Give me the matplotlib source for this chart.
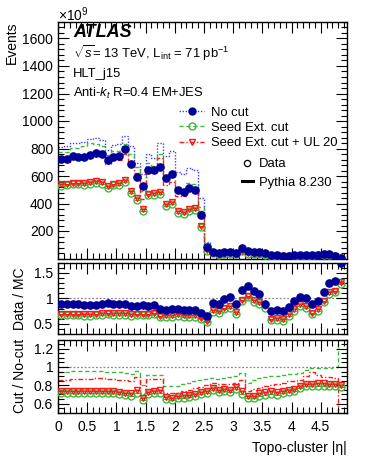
import numpy as np
import matplotlib
matplotlib.use("Agg")
import matplotlib.pyplot as plt
from matplotlib.ticker import MultipleLocator, FormatStrFormatter, FixedLocator
from matplotlib.lines import Line2D

plt.rcParams["font.family"] = ["Liberation Sans", "DejaVu Sans"]
plt.rcParams["mathtext.fontset"] = "custom"
plt.rcParams["mathtext.rm"] = "Liberation Sans"
plt.rcParams["mathtext.it"] = "Liberation Sans:italic"
plt.rcParams["mathtext.bf"] = "Liberation Sans:bold"

# ---------------- data ----------------
eta_edges = np.round(np.arange(50) * 0.1, 1)          # 49 bins, 0 - 4.9

# main panel, events in units of 1e9
nocut_data = [721, 725, 747, 738, 735, 750, 764, 757, 718, 740, 743, 793, 689, 592, 529, 641, 641, 665, 583, 612,
              498, 481, 510, 500, 314, 81, 50, 38, 47, 50, 42, 78, 54, 47, 45, 42, 25, 23, 21, 21,
              23, 23, 25, 23, 28, 30, 36, 21, 5]
seed_data = [527, 532, 539, 539, 536, 541, 551, 544, 512, 532, 536, 556, 478, 425, 347, 459, 464, 469, 381, 396,
             333, 326, 348, 352, 231, 58, 38, 27, 34, 36, 32, 55, 36, 31, 31, 29, 18, 16, 15, 15,
             17, 18, 20, 18, 22, 24, 28, 17, 4]
ul_data = [540, 545, 552, 552, 548, 553, 563, 556, 524, 545, 548, 568, 490, 437, 358, 471, 476, 481, 393, 408,
           344, 337, 360, 364, 240, 60, 39, 28, 35, 37, 33, 57, 37, 32, 32, 30, 19, 17, 16, 16,
           18, 19, 21, 19, 23, 25, 29, 17, 4]
nocut_mc = [814, 818, 843, 839, 849, 872, 875, 860, 792, 829, 832, 888, 820, 694, 615, 758, 734, 839, 747, 779,
            628, 617, 660, 641, 440, 123, 55, 43, 47, 48, 48, 67, 44, 41, 41, 48, 33, 30, 28, 25,
            24, 22, 25, 26, 29, 27, 28, 16, 3]
seed_mc = [773, 777, 805, 805, 815, 837, 836, 821, 752, 783, 782, 830, 759, 666, 492, 694, 672, 763, 594, 615,
           499, 500, 548, 545, 378, 107, 48, 37, 41, 43, 43, 63, 37, 35, 36, 43, 30, 27, 25, 23,
           22, 20, 24, 26, 29, 27, 28, 16, 4]
ul_mc = [700, 703, 729, 730, 739, 759, 766, 753, 689, 717, 716, 759, 697, 621, 431, 656, 639, 730, 538, 557,
         452, 453, 495, 494, 345, 98, 45, 35, 38, 39, 40, 58, 32, 31, 32, 38, 26, 24, 23, 21,
         20, 19, 23, 25, 26, 24, 25, 14, 1]

# Data / MC panel
ratio_nocut = [0.886, 0.886, 0.886, 0.88, 0.866, 0.86, 0.873, 0.88, 0.906, 0.893, 0.893, 0.893, 0.84, 0.853,
               0.86, 0.846, 0.873, 0.793, 0.78, 0.786, 0.793, 0.78, 0.773, 0.78, 0.713,
               0.66, 0.913, 0.893, 0.993, 1.033, 0.88, 1.16, 1.233, 1.146, 1.086, 0.88, 0.753, 0.766, 0.753,
               0.833, 0.953, 1.033, 1.0, 0.88, 0.953, 1.126, 1.3, 1.346, 1.686]
ratio_seed = [0.665, 0.665, 0.67, 0.665, 0.66, 0.66, 0.67, 0.675, 0.69, 0.675, 0.675, 0.68, 0.66, 0.665,
              0.67, 0.665, 0.685, 0.63, 0.64, 0.64, 0.655, 0.64, 0.635, 0.635, 0.59,
              0.534, 0.74, 0.72, 0.79, 0.82, 0.70, 0.94, 1.02, 0.93, 0.89, 0.82, 0.57, 0.58, 0.555,
              0.655, 0.755, 0.855, 0.81, 0.69, 0.755, 0.92, 1.09, 1.115, 1.29]
ratio_ul = [0.695, 0.695, 0.70, 0.695, 0.69, 0.69, 0.70, 0.705, 0.72, 0.705, 0.705, 0.71, 0.69, 0.695,
            0.70, 0.695, 0.715, 0.66, 0.67, 0.67, 0.685, 0.67, 0.665, 0.665, 0.62,
            0.564, 0.77, 0.75, 0.82, 0.85, 0.73, 0.97, 1.05, 0.96, 0.92, 0.85, 0.60, 0.61, 0.585,
            0.685, 0.785, 0.885, 0.84, 0.72, 0.785, 0.95, 1.12, 1.145, 1.32]
ratio_nocut_err_last = 0.12
ratio_ul_err_last = 0.07

# Cut / No-cut panel
frac_seed_data = [0.71, 0.71, 0.71, 0.71, 0.71, 0.71, 0.715, 0.715, 0.71, 0.71, 0.70, 0.69, 0.685, 0.72,
                  0.64, 0.705, 0.71, 0.72, 0.645, 0.64, 0.66, 0.665, 0.67, 0.68, 0.70,
                  0.714, 0.75, 0.722, 0.733, 0.722, 0.758, 0.707, 0.66, 0.66, 0.686, 0.697, 0.707, 0.697,
                  0.714, 0.722, 0.733, 0.769, 0.788, 0.788, 0.795, 0.795, 0.788, 0.788, 0.78]
frac_ul_data = [0.735, 0.735, 0.735, 0.735, 0.735, 0.735, 0.74, 0.74, 0.735, 0.735, 0.725, 0.715, 0.71, 0.745,
                0.665, 0.73, 0.735, 0.745, 0.67, 0.665, 0.685, 0.69, 0.695, 0.705, 0.725,
                0.739, 0.775, 0.747, 0.758, 0.747, 0.783, 0.732, 0.685, 0.685, 0.711, 0.722, 0.732, 0.722,
                0.739, 0.747, 0.758, 0.794, 0.813, 0.813, 0.82, 0.82, 0.813, 0.813, 0.805]
frac_seed_mc = [0.95, 0.95, 0.955, 0.96, 0.96, 0.96, 0.955, 0.955, 0.95, 0.945, 0.94, 0.935, 0.925, 0.96,
                0.80, 0.915, 0.915, 0.91, 0.795, 0.79, 0.795, 0.81, 0.83, 0.85, 0.86,
                0.87, 0.875, 0.87, 0.88, 0.89, 0.905, 0.935, 0.83, 0.86, 0.88, 0.89, 0.9, 0.905, 0.91,
                0.92, 0.925, 0.93, 0.965, 0.985, 0.985, 0.985, 0.99, 0.995, 1.35]
frac_ul_mc = [0.86, 0.86, 0.865, 0.87, 0.87, 0.87, 0.875, 0.875, 0.87, 0.865, 0.86, 0.855, 0.85, 0.895,
              0.70, 0.865, 0.87, 0.87, 0.72, 0.715, 0.72, 0.735, 0.75, 0.77, 0.785,
              0.80, 0.82, 0.81, 0.81, 0.815, 0.83, 0.86, 0.735, 0.76, 0.77, 0.79, 0.80, 0.815, 0.83,
              0.845, 0.85, 0.86, 0.9, 0.945, 0.91, 0.895, 0.89, 0.88, 0.4]

# ---------------- style ----------------
C_BLUE_M = "#000099"
C_BLUE_L = "#3d3dff"
C_GREEN = "#3cb83c"
C_RED = "#ff1a1a"
LS_BLUE = (0, (1, 1.2))
LS_GREEN = (0, (3, 2))
LS_RED = (0, (3.5, 1.5, 1, 1.5))

centers = 0.5 * (eta_edges[1:] + eta_edges[:-1])
halfw = 0.5 * np.diff(eta_edges)

W, H = 366, 474
fig = plt.figure(figsize=(W / 100, H / 100), dpi=100)
x0 = 58 / W
wid = (347 - 58) / W


def axrect(top, bottom):
    return [x0, 1 - bottom / H, wid, (bottom - top) / H]


ax1 = fig.add_axes(axrect(22, 258.5))
ax2 = fig.add_axes(axrect(262.7, 334))
ax3 = fig.add_axes(axrect(339.5, 412.7))

FS = 10


def style(ax):
    ax.set_xlim(0, 4.95)
    ax.tick_params(which="both", direction="in", top=True, right=True, labelsize=FS, width=0.8)
    ax.tick_params(which="major", length=8)
    ax.tick_params(which="minor", length=4)
    ax.xaxis.set_major_locator(MultipleLocator(0.5))
    ax.xaxis.set_minor_locator(MultipleLocator(0.1))
    ax.xaxis.set_major_formatter(FormatStrFormatter("%g"))
    for s in ax.spines.values():
        s.set_linewidth(1.0)


for a in (ax1, ax2, ax3):
    style(a)

MS = 5


def markers(ax, y, color, marker, mfc, yerr=None, ms=MS, z=3):
    ax.errorbar(centers, y, xerr=halfw, yerr=yerr, fmt=marker, color=color, mfc=mfc, mec=color,
                ms=ms, mew=1.0, elinewidth=0.8, capsize=0, zorder=z)


# ---- main panel ----
ax1.stairs(nocut_mc, eta_edges, color=C_BLUE_L, ls=LS_BLUE, lw=1.0, baseline=None)
ax1.stairs(seed_mc, eta_edges, color=C_GREEN, ls=LS_GREEN, lw=1.0, baseline=None)
ax1.stairs(ul_mc, eta_edges, color=C_RED, ls=LS_RED, lw=1.0, baseline=None)
markers(ax1, seed_data, C_GREEN, "o", "none")
markers(ax1, ul_data, C_RED, "v", "none", ms=4.8, z=4)
markers(ax1, nocut_data, C_BLUE_M, "o", C_BLUE_M, ms=5.2, z=5)
ax1.set_ylim(0, 1720)
ax1.yaxis.set_major_locator(FixedLocator([200, 400, 600, 800, 1000, 1200, 1400, 1600]))
ax1.yaxis.set_minor_locator(MultipleLocator(40))
ax1.tick_params(axis="x", labelbottom=False)
ax1.set_ylabel("Events", fontsize=FS, loc="top")
ax1.yaxis.set_label_coords((19 - 58) / 289, 1.0)
fig.text(58 / W, 1 - 21 / H, r"$\times10^{9}$", fontsize=FS, ha="left", va="baseline")

ax1.text(0.052, 0.937, "ATLAS", transform=ax1.transAxes, fontsize=13, fontweight="bold",
         style="italic", va="baseline")
ax1.text(0.052, 0.846, r"$\sqrt{s}$= 13 TeV, L$_{\rm int}$ = 71 pb$^{-1}$", transform=ax1.transAxes,
         fontsize=9.4, va="baseline")
ax1.text(0.052, 0.766, "HLT_j15", transform=ax1.transAxes, fontsize=9.4, va="baseline")
ax1.text(0.052, 0.682, r"Anti-$k_{t}$ R=0.4 EM+JES", transform=ax1.transAxes, fontsize=9.4, va="baseline")

h1 = [Line2D([], [], color=C_BLUE_L, ls=LS_BLUE, lw=1, marker="o", mfc=C_BLUE_M, mec=C_BLUE_M, ms=5),
      Line2D([], [], color=C_GREEN, ls=LS_GREEN, lw=1, marker="o", mfc="none", mec=C_GREEN, ms=5),
      Line2D([], [], color=C_RED, ls=LS_RED, lw=1, marker="v", mfc="none", mec=C_RED, ms=5)]
leg1 = ax1.legend(h1, ["No cut", "Seed Ext. cut", "Seed Ext. cut + UL 20"], loc="upper left",
                  bbox_to_anchor=(0.42, 0.643), frameon=False, fontsize=9.4, handlelength=1.9,
                  handletextpad=0.55, labelspacing=0.24, borderpad=0, borderaxespad=0)
ax1.add_artist(leg1)
h2 = [Line2D([], [], ls="none", marker="o", mfc="none", mec="black", ms=4.5, mew=0.9),
      Line2D([], [], color="black", lw=2.2)]
ax1.legend(h2, ["Data", "Pythia 8.230"], loc="upper left", bbox_to_anchor=(0.635, 0.425),
           frameon=False, fontsize=9.4, handlelength=0.85, handletextpad=0.5, labelspacing=0.5,
           borderpad=0, borderaxespad=0)

# ---- Data / MC panel ----
err_b = [0.0] * (len(ratio_nocut) - 1) + [ratio_nocut_err_last]
err_r = [0.0] * (len(ratio_ul) - 1) + [ratio_ul_err_last]
ax2.axhline(1.0, color="#888888", ls=(0, (1.5, 1.5)), lw=0.9, zorder=1)
markers(ax2, ratio_seed, C_GREEN, "o", "none")
markers(ax2, ratio_ul, C_RED, "v", "none", yerr=err_r, ms=4.8, z=4)
markers(ax2, ratio_nocut, C_BLUE_M, "o", C_BLUE_M, yerr=err_b, ms=5.2, z=5)
ax2.set_ylim(0.3, 1.7)
ax2.yaxis.set_major_locator(FixedLocator([0.5, 1.0, 1.5]))
ax2.yaxis.set_minor_locator(MultipleLocator(0.1))
ax2.yaxis.set_major_formatter(FormatStrFormatter("%g"))
ax2.tick_params(axis="x", labelbottom=False)
ax2.set_ylabel("Data / MC", fontsize=FS)
ax2.yaxis.set_label_coords((27 - 58) / 289, 0.5)

# ---- Cut / No-cut panel ----
ax3.axhline(1.0, color="#888888", ls=(0, (1.5, 1.5)), lw=0.9, zorder=1)
ax3.stairs(frac_seed_mc, eta_edges, color=C_GREEN, ls=LS_GREEN, lw=1.0, baseline=None)
ax3.stairs(frac_ul_mc, eta_edges, color=C_RED, ls=LS_RED, lw=1.0, baseline=None)
markers(ax3, frac_seed_data, C_GREEN, "o", "none")
markers(ax3, frac_ul_data, C_RED, "v", "none", ms=4.8, z=4)
ax3.set_ylim(0.5, 1.3)
ax3.yaxis.set_major_locator(FixedLocator([0.6, 0.8, 1.0, 1.2]))
ax3.yaxis.set_minor_locator(MultipleLocator(0.05))
ax3.yaxis.set_major_formatter(FormatStrFormatter("%g"))
ax3.set_ylabel("Cut / No-cut", fontsize=FS)
ax3.yaxis.set_label_coords((27 - 58) / 289, 0.5)
ax3.tick_params(axis="x", pad=5)

fig.text(347 / W, 1 - 452 / H, "Topo-cluster |η|", fontsize=FS, ha="right", va="baseline")

fig.savefig("out.png", dpi=100, facecolor="white")
